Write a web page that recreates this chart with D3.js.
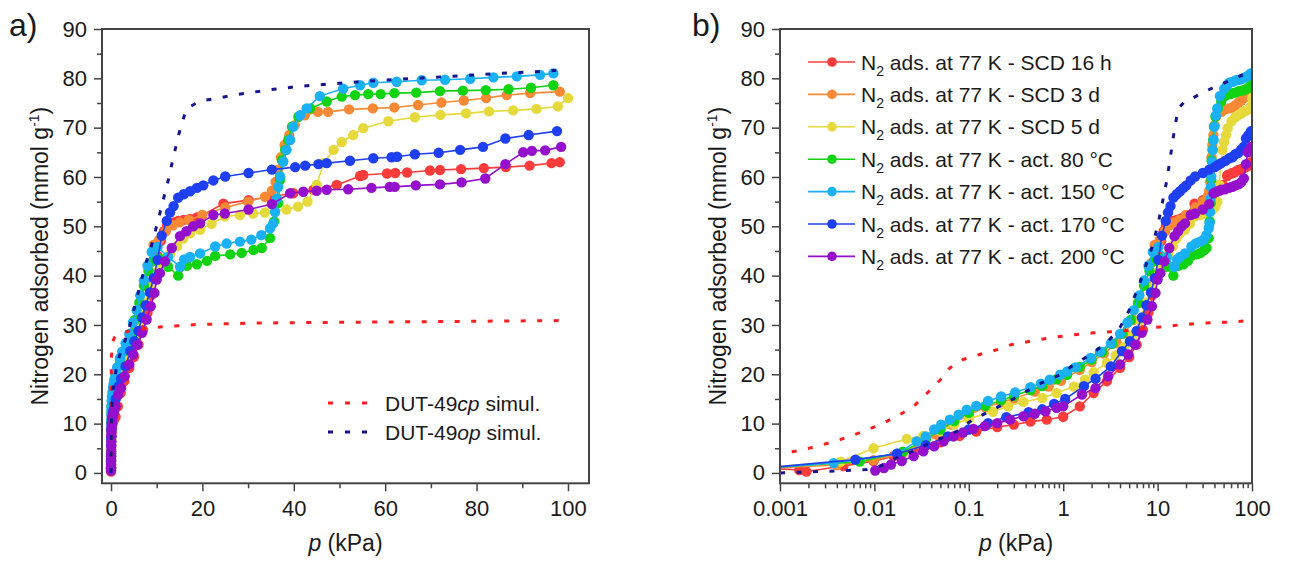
<!DOCTYPE html>
<html lang="en">
<head>
  <meta charset="UTF-8">
  <title>N2 isotherms DUT-49</title>
  <style>
    body { margin: 0; background: #fff; }
    svg { font-family: "Liberation Sans", Arial, sans-serif; }
  </style>
</head>
<body>
  <svg id="svg" width="1290" height="565"></svg>

  <script src="https://d3js.org/d3.v7.min.js"></script>
  <script>
    // [p (kPa), n (mmol/g)]
    const scd16h = [[0.0007,1.0],[0.0016,0.6],[0.0019,0.3],[0.0047,1.4],[0.0098,2.4],[0.016,3.4],[0.03,4.8],[0.05,6.2],[0.08,7.5],[0.12,8.4],[0.2,9.3],[0.3,9.8],[0.45,10.4],[0.67,10.8],[1.0,11.4],[1.5,13.5],[2.1,16.2],[2.9,18.6],[4.0,21.3],[5.0,23.5],[6.0,26],[7.0,29],[8.0,32.5],[8.8,36],[9.5,40],[10.2,44],[10.9,47],[11.6,49],[12.3,50.2],[13.7,50.8],[14.7,51.1],[15.9,51.3],[17.3,51.5],[18.8,51.8],[19.9,52.2],[24.6,54.6],[30.1,55.3],[34.8,56.0],[39.9,56.7],[44.3,57.4],[49.4,58.4],[54.5,60.2],[55.2,60.4],[60.4,60.7],[62.2,60.8],[64.8,60.9],[69.8,61.3],[72.0,61.4],[76.6,61.6],[81.6,61.8],[86.4,62.0],[91.6,62.3],[96.4,62.8],[98.2,63.0]]
    const scd3d = [[0.0007,0.9],[0.004,1.6],[0.0098,2.6],[0.02,4.0],[0.03,5.8],[0.045,7.8],[0.065,9.8],[0.1,11.8],[0.15,13.3],[0.22,14.3],[0.3,15.1],[0.5,16.5],[0.7,17.5],[0.95,18.7],[1.5,20.9],[2.0,22.5],[2.7,24.2],[3.7,26.3],[4.5,28.3],[5.5,31],[6.5,34.5],[7.5,38.5],[8.5,42.5],[9.3,46.2],[10.5,47.2],[12,49],[13.5,50.2],[15,50.8],[17,51.3],[20,52.3],[25,53.8],[30,55.0],[33.7,56.0],[35.2,57.2],[36,59],[36.6,61.5],[37.2,64],[38,66.5],[39,68.5],[40.2,70.5],[42.4,72.5],[45.3,73.2],[47.5,73.2],[52.1,73.7],[57.3,73.9],[62,74.1],[67.2,74.6],[72.3,75.1],[77.2,75.5],[82.1,76.0],[86.6,76.6],[91.7,77.0],[98.2,77.3]]
    const scd5d = [[0.0007,1.1],[0.0044,2.3],[0.0098,5.0],[0.022,6.9],[0.033,7.5],[0.05,8.5],[0.07,9.8],[0.1,11.0],[0.18,12.4],[0.26,13.5],[0.38,14.4],[0.6,15.2],[0.85,16.2],[1.3,17.5],[1.7,18.9],[2.1,20.4],[2.9,22.3],[3.6,23.8],[4.4,25.5],[5.5,28],[6.5,31],[7.5,34.5],[8.5,37.5],[9.5,40.5],[10.5,42.5],[11.7,43.5],[13,44.5],[14.5,46],[15.8,47.5],[17.3,48.6],[19.5,49.3],[22,50.5],[24.9,52.0],[28.2,52.3],[31.1,52.6],[33.7,52.8],[38.4,53.4],[40.9,54.0],[43,55.0],[45,58.4],[46.5,62.8],[48.7,65.5],[50.5,67.1],[53,68.5],[55.2,69.9],[60.7,71.3],[66.5,72.1],[72.1,72.6],[77.7,72.9],[82.7,73.3],[88,73.5],[93.1,73.8],[97.8,74.3],[100,76.0]]
    const act80 = [[0.0007,1.0],[0.007,2.3],[0.02,4.3],[0.035,6.8],[0.05,8.8],[0.07,10.5],[0.1,12.2],[0.15,13.6],[0.22,14.7],[0.3,15.6],[0.45,16.8],[0.6,17.6],[0.85,19.0],[1.1,19.9],[1.5,21.5],[2.0,23.0],[2.6,24.5],[3.3,26.2],[4.2,28.2],[5.2,31],[6.2,34.5],[7.2,38],[8.2,41],[9.2,43],[10.5,43.5],[12.5,41.8],[14.7,40.0],[16.6,42.0],[18.8,42.3],[21.0,43.0],[22.8,44.0],[26.1,44.3],[28.6,44.6],[31.2,45.2],[33.0,45.6],[34.8,47.6],[35.7,51.0],[36.6,54.7],[37.0,59.4],[37.4,63.4],[38.1,65.5],[38.8,67.5],[39.6,70.2],[41.0,72.2],[43.6,73.9],[47.2,75.3],[50.5,76.3],[53.4,76.6],[56.3,76.8],[59.0,76.8],[62.0,77.0],[66.8,77.1],[72.0,77.4],[77.0,77.5],[82.0,77.6],[87.0,77.8],[91.9,78.1],[96.8,78.6]]
    const act150 = [[0.0007,1.0],[0.0037,2.0],[0.0174,3.9],[0.028,6.4],[0.035,7.4],[0.043,8.8],[0.051,9.8],[0.063,10.8],[0.078,11.8],[0.095,12.8],[0.12,13.6],[0.16,14.6],[0.22,15.5],[0.31,16.3],[0.45,17.4],[0.58,18.1],[0.72,18.9],[0.93,19.9],[1.1,20.6],[1.35,21.4],[1.95,23.3],[2.45,24.6],[3.2,26.3],[4.0,28.2],[4.8,30.5],[5.6,33],[6.4,36],[7.2,39],[8.0,42],[8.9,44.8],[10.2,45.8],[12.5,43.8],[15.1,41.8],[16.0,43.3],[17.3,43.8],[19.5,44.5],[22.8,45.9],[25.3,46.5],[28.2,46.9],[30.7,47.3],[32.9,48.2],[34.8,49.6],[35.5,50.6],[35.9,52.9],[36.3,55.6],[36.6,58.0],[37.0,60.1],[37.7,63.1],[38.4,65.5],[39.2,67.5],[39.9,70.2],[41.4,72.5],[42.8,73.9],[45.7,76.4],[50.8,77.9],[54.5,78.6],[57.4,79.1],[62.5,79.3],[68.0,79.6],[73.1,79.7],[78.6,79.9],[83.7,80.2],[88.8,80.4],[93.9,80.7],[96.8,81.0]]
    const act170 = [[0.0007,1.0],[0.0063,2.7],[0.0174,3.9],[0.035,5.6],[0.06,7.4],[0.1,8.8],[0.16,10.1],[0.25,11.3],[0.43,12.3],[0.6,12.9],[0.8,14.0],[1.05,15.0],[1.66,17.6],[2.2,19.1],[3.2,21.6],[4.2,24.7],[5.1,26.7],[6.0,28.8],[6.8,31.5],[7.6,34],[8.5,36.6],[9.3,39.5],[10.2,43.2],[11.1,48.1],[12.2,51.1],[12.9,52.8],[13.7,54.1],[14.7,55.8],[15.9,56.5],[17.3,57.1],[18.8,57.8],[20.2,58.3],[22.4,59.3],[25.0,60.1],[30.1,60.8],[35.2,61.5],[40.3,62.0],[42.5,62.3],[45.4,62.6],[47.2,62.8],[52.3,63.3],[57.4,63.8],[61.4,64.0],[62.6,64.1],[66.5,64.6],[71.7,64.9],[76.4,65.5],[81.4,66.1],[86.3,67.8],[91.4,68.5],[97.6,69.3]]
    const act200 = [[0.0102,0.5],[0.0126,1.0],[0.015,1.7],[0.0195,2.4],[0.026,3.4],[0.033,4.4],[0.043,5.4],[0.054,6.4],[0.069,7.4],[0.087,8.2],[0.112,8.9],[0.148,9.5],[0.2,10.1],[0.275,10.8],[0.38,11.5],[0.5,12.0],[0.65,12.5],[0.85,13.2],[1.0,13.5],[1.58,15.9],[2.2,17.2],[3.0,19.6],[4.0,22.0],[4.9,24.0],[5.8,26.0],[6.8,28.4],[7.8,31.1],[8.7,33.8],[9.5,36.5],[10.0,39.2],[10.7,40.5],[11.8,42.9],[13.3,45.6],[15.1,48.0],[16.5,49.0],[18.0,50.0],[19.5,50.6],[22.4,52.3],[24.9,52.6],[30.1,53.4],[35.2,54.5],[39.2,56.7],[42.1,57.0],[45.0,57.2],[47.2,57.4],[51.9,57.5],[57.0,57.8],[61.0,58.0],[62.1,58.0],[66.7,58.3],[72.0,58.5],[76.7,58.9],[81.9,59.7],[86.3,62.6],[90.2,65.0],[92.1,65.3],[95.0,65.4],[98.5,66.1]]

    // simulated isotherms
    const simOp = [[0.001,0.0],[0.002,0.2],[0.004,0.4],[0.0083,0.7],[0.012,1.5],[0.0186,3.4],[0.028,4.7],[0.039,6.1],[0.074,8.4],[0.11,10.8],[0.155,12.2],[0.25,14.2],[0.38,16.2],[0.58,18.2],[0.93,19.9],[1.3,22.0],[1.95,24.0],[2.9,26.4],[4.0,29.5],[5.0,33],[6.4,38.2],[7.8,43.0],[9.0,46.5],[10.4,51.6],[12.55,59.4],[13.6,63.8],[14.7,68.2],[15.7,71.5],[16.6,73.9],[19.5,75.4],[23.1,75.9],[26.8,76.6],[34.1,77.6],[41.4,78.4],[48.7,78.9],[55.9,79.4],[63.2,79.8],[70.5,80.2],[77.8,80.6],[85.1,81.0],[92.4,81.3],[98.8,81.7]]
    const simCp = [[0.0006,3.3],[0.00145,4.4],[0.0025,5.4],[0.0044,6.8],[0.0076,8.4],[0.0115,9.8],[0.0174,11.5],[0.026,13.5],[0.035,15.9],[0.05,18.9],[0.063,21.3],[0.087,23.0],[0.13,24.0],[0.2,25.0],[0.28,26.0],[0.45,26.7],[0.72,27.4],[1.3,28.0],[2.1,28.4],[3.7,28.7],[6.6,29.2],[10.7,29.6],[19,30.1],[33,30.4],[59,30.6],[100,30.9]]

    const seriesData = [scd16h, scd3d, scd5d, act80, act150, act170, act200]
    const seriesLabels = ['SCD 16 h', 'SCD 3 d', 'SCD 5 d', 'act. 80 °C', 'act. 150 °C', 'act. 170 °C', 'act. 200 °C']
    const seriesColors = ['#ff3c3c', '#f98a35', '#e6d93c', '#12d312', '#1ab0f5', '#1f3ff2', '#9510cc']

    const yTicks = d3.range(0, 91, 10)
    const yMinor = d3.range(5, 90, 10)
    const xTicksA = [0, 20, 40, 60, 80, 100]
    const xMinorA = [10, 30, 50, 70, 90]
    const xTicksB = [0.001, 0.01, 0.1, 1, 10, 100]

    const svg = d3.select('#svg')
    const plotTop = 29, plotBottom = 483.3
    const y = d3.scaleLinear().domain([-2.1, 90]).range([plotBottom, plotTop])

    const xA = d3.scaleLinear().domain([-1.97, 104.6]).range([102, 589])
    const xB = d3.scaleLog().domain([0.001, 100]).range([780, 1252])

    const axisColor = '#444'
    const textColor = '#1a1a1a'
    const markerR = 5.2

    function styleAxis(g) {
      g.select('.domain').remove()
      g.selectAll('line').attr('stroke', axisColor).attr('stroke-width', 1.5)
      g.selectAll('text').attr('fill', textColor).style('font-size', '22px')
        .style('font-family', '"Liberation Sans", Arial, sans-serif')
    }

    function drawPanel(x, id, xMajor, xMinor, fmt) {
      const [x0, x1] = x.range()
      const g = svg.append('g')

      g.append('clipPath').attr('id', 'clip' + id)
        .append('rect').attr('x', x0).attr('y', plotTop).attr('width', x1 - x0).attr('height', plotBottom - plotTop)

      // axes
      g.append('g').attr('transform', `translate(${x0},0)`)
        .call(d3.axisLeft(y).tickValues(yTicks).tickSize(8).tickPadding(7))
        .call(styleAxis)
      g.append('g').attr('transform', `translate(${x0},0)`)
        .call(d3.axisLeft(y).tickValues(yMinor).tickSize(5).tickFormat(''))
        .call(styleAxis)
      g.append('g').attr('transform', `translate(0,${plotBottom})`)
        .call(d3.axisBottom(x).tickValues(xMajor).tickSize(8).tickPadding(9).tickFormat(fmt))
        .call(styleAxis)
      g.append('g').attr('transform', `translate(0,${plotBottom})`)
        .call(d3.axisBottom(x).tickValues(xMinor).tickSize(5).tickFormat(''))
        .call(styleAxis)

      const plot = g.append('g').attr('clip-path', `url(#clip${id})`)
      const line = d3.line().x(d => x(d[0])).y(d => y(d[1]))

      seriesData.forEach((data, i) => {
        plot.append('path').datum(data)
          .attr('d', line).attr('fill', 'none')
          .attr('stroke', seriesColors[i]).attr('stroke-width', 1.6)
        plot.append('g').selectAll('circle').data(data).enter()
          .append('circle')
          .attr('cx', d => x(d[0])).attr('cy', d => y(d[1]))
          .attr('r', markerR).attr('fill', seriesColors[i])
      })

      plot.append('path').datum(simCp).attr('d', line).attr('fill', 'none')
        .attr('stroke', '#ff1e1e').attr('stroke-width', 3).attr('stroke-dasharray', '5,11.5')
      plot.append('path').datum(simOp).attr('d', line).attr('fill', 'none')
        .attr('stroke', '#15158f').attr('stroke-width', 3).attr('stroke-dasharray', '5,11.5')

      // frame
      g.append('rect').attr('x', x0).attr('y', plotTop).attr('width', x1 - x0).attr('height', plotBottom - plotTop)
        .attr('fill', 'none').attr('stroke', axisColor).attr('stroke-width', 2)

      // axis titles
      const cx = (x0 + x1) / 2
      const xt = g.append('text').attr('x', cx).attr('y', 551).attr('text-anchor', 'middle')
        .attr('fill', textColor).style('font-size', '23px')
      xt.append('tspan').attr('font-style', 'italic').text('p')
      xt.append('tspan').text(' (kPa)')

      const yt = g.append('text')
        .attr('transform', `translate(${x0 - 54},${(plotTop + plotBottom) / 2}) rotate(-90)`)
        .attr('text-anchor', 'middle').attr('fill', textColor).style('font-size', '23px')
      yt.append('tspan').text('Nitrogen adsorbed (mmol g')
      yt.append('tspan').attr('dy', -9).style('font-size', '14px').text('-1')
      yt.append('tspan').attr('dy', 9).text(')')
      return g
    }

    const logMinor = []
    for (let e = -3; e < 2; e += 1) {
      for (let k = 2; k <= 9; k += 1) logMinor.push(k * Math.pow(10, e))
    }

    drawPanel(xA, 'A', xTicksA, xMinorA, d3.format('d'))
    drawPanel(xB, 'B', xTicksB, logMinor, d => String(+d.toPrecision(1)))

    // panel letters
    svg.append('text').attr('x', 9).attr('y', 36).style('font-size', '32px').attr('fill', textColor).text('a)')
    svg.append('text').attr('x', 692).attr('y', 36).style('font-size', '32px').attr('fill', textColor).text('b)')

    // legend a
    const legA = svg.append('g')
    const simLegend = [['cp', '#ff1e1e'], ['op', '#15158f']]
    simLegend.forEach((s, i) => {
      const ly = 403 + i * 29
      legA.append('line').attr('x1', 328).attr('x2', 367).attr('y1', ly).attr('y2', ly)
        .attr('stroke', s[1]).attr('stroke-width', 3).attr('stroke-dasharray', '5,12')
      const t = legA.append('text').attr('x', 385).attr('y', ly).attr('dy', '0.36em')
        .attr('fill', textColor).style('font-size', '21px')
      t.append('tspan').text('DUT-49')
      t.append('tspan').attr('font-style', 'italic').text(s[0])
      t.append('tspan').text(' simul.')
    })

    // legend b
    const legB = svg.append('g')
    seriesLabels.forEach((lab, i) => {
      const ly = 62 + i * 32.4
      legB.append('line').attr('x1', 808).attr('x2', 855).attr('y1', ly).attr('y2', ly)
        .attr('stroke', seriesColors[i]).attr('stroke-width', 1.6)
      legB.append('circle').attr('cx', 832).attr('cy', ly).attr('r', 4.8).attr('fill', seriesColors[i])
      const t = legB.append('text').attr('x', 861).attr('y', ly + 7.5)
        .attr('fill', textColor).style('font-size', '21px')
      t.append('tspan').text('N')
      t.append('tspan').attr('dy', 6).style('font-size', '14px').text('2')
      t.append('tspan').attr('dy', -6).text(' ads. at 77 K - ' + lab)
    })
  </script>
</body>
</html>
